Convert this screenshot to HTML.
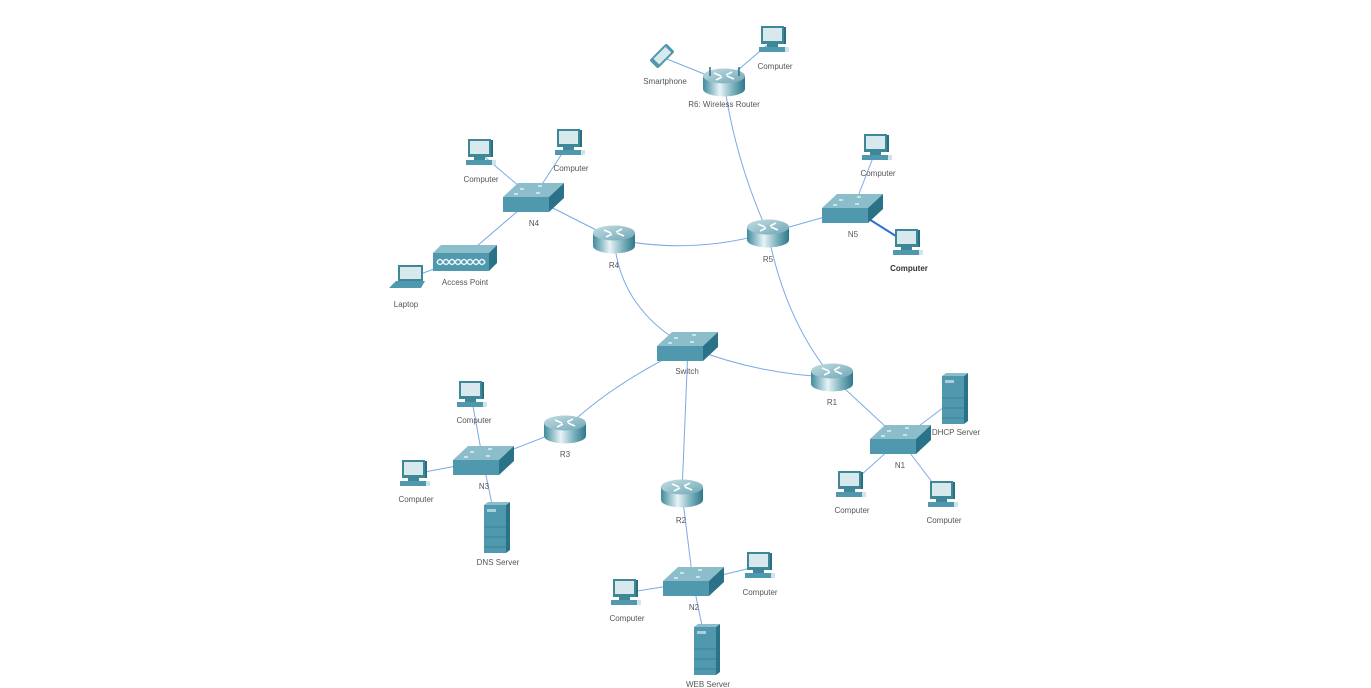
<!DOCTYPE html>
<html><head><meta charset="utf-8"><style>
html,body{margin:0;padding:0;background:#fff;}
svg{display:block;}
text{font-family:"Liberation Sans",sans-serif;font-size:8px;fill:#555;text-anchor:middle;}
</style></head><body>
<svg width="1371" height="688" viewBox="0 0 1371 688" xmlns="http://www.w3.org/2000/svg">
<defs>
<linearGradient id="rg" x1="0" x2="1" y1="0" y2="0">
<stop offset="0" stop-color="#3f8b9c"/><stop offset="0.4" stop-color="#e8f3f5"/><stop offset="0.7" stop-color="#7fb3c0"/><stop offset="1" stop-color="#2f7889"/>
</linearGradient>
<linearGradient id="rt" x1="0" x2="1" y1="0" y2="1">
<stop offset="0" stop-color="#c4dde3"/><stop offset="1" stop-color="#6fa7b6"/>
</linearGradient>
<g id="router">
<path d="M-21,-6 L-21,7 A21,7.5 0 0 0 21,7 L21,-6 Z" fill="url(#rg)"/>
<ellipse cx="0" cy="-6" rx="21" ry="7.5" fill="url(#rt)"/>
<path d="M-10,-9 L-3,-6 M10,-3 L3,-6 M-8,-2 L-2,-5 M8,-10 L2,-7" stroke="#fff" stroke-width="1.6"/>
</g>
<g id="switch">
<polygon points="-31,-1 -16,-15 30,-15 15,-1" fill="#8cbdcb"/>
<rect x="-31" y="-1" width="46" height="15" fill="#4f98ad"/>
<polygon points="15,-1 30,-15 30,0 15,14" fill="#2a7287"/>
<path d="M-14,-9 h4 M4,-12 h4 M-20,-4 h4 M2,-5 h4" stroke="#e0eef2" stroke-width="1.5"/>
</g>
<g id="pc">
<rect x="-12" y="-14" width="23" height="18" fill="#3e8799"/>
<rect x="-10" y="-12" width="19" height="13" fill="#d8e9ee"/>
<rect x="11" y="-13" width="2" height="17" fill="#2a6f80"/>
<rect x="-6" y="4" width="11" height="3" fill="#3e8799"/>
<rect x="-14" y="7" width="26" height="5" fill="#4f98ad"/>
<rect x="12" y="7" width="4" height="5" fill="#cfe3ea"/>
</g>
<g id="server">
<rect x="-13" y="-24" width="22" height="48" fill="#4f98ad"/>
<polygon points="9,-24 13,-27 13,21 9,24" fill="#2a7287"/>
<polygon points="-13,-24 -9,-27 13,-27 9,-24" fill="#8cbdcb"/>
<rect x="-10" y="-20" width="9" height="3" fill="#a9d0da"/>
<path d="M-13,-2 h22 M-13,8 h22 M-13,18 h22" stroke="#3a8296" stroke-width="1"/>
</g>
</defs>

<g stroke="#7aa9e8" stroke-width="1" fill="none">
<path d="M614,239 Q690,255 768,233"/>
<path d="M724,82 Q735,160 768,233"/>
<path d="M614,239 Q620,310 688,347"/>
<path d="M768,233 Q785,320 832,377"/>
<path d="M688,347 Q760,375 832,377"/>
<path d="M688,347 Q610,385 565,429"/>
<line x1="688" y1="347" x2="682" y2="493"/>
<line x1="533" y1="198" x2="614" y2="239"/>
<line x1="533" y1="198" x2="480" y2="153"/>
<line x1="533" y1="198" x2="569" y2="143"/>
<line x1="533" y1="198" x2="463" y2="258"/>
<line x1="463" y1="258" x2="410" y2="278"/>
<line x1="768" y1="233" x2="853" y2="209"/>
<line x1="853" y1="209" x2="876" y2="150"/>
<line x1="724" y1="82" x2="662" y2="57"/>
<line x1="724" y1="82" x2="773" y2="40"/>
<line x1="832" y1="377" x2="900" y2="440"/>
<line x1="900" y1="440" x2="955" y2="399"/>
<line x1="900" y1="440" x2="850" y2="485"/>
<line x1="900" y1="440" x2="942" y2="495"/>
<line x1="565" y1="429" x2="483" y2="461"/>
<line x1="483" y1="461" x2="471" y2="395"/>
<line x1="483" y1="461" x2="414" y2="474"/>
<line x1="483" y1="461" x2="497" y2="528"/>
<line x1="682" y1="493" x2="693" y2="582"/>
<line x1="693" y1="582" x2="625" y2="593"/>
<line x1="693" y1="582" x2="759" y2="566"/>
<line x1="693" y1="582" x2="707" y2="650"/>
</g>
<line x1="853" y1="209" x2="907" y2="243" stroke="#2a6fd8" stroke-width="2"/>

<use href="#router" x="614" y="239"/><text x="614" y="268">R4</text>
<use href="#router" x="768" y="233"/><text x="768" y="262">R5</text>
<use href="#router" x="832" y="377"/><text x="832" y="405">R1</text>
<use href="#router" x="565" y="429"/><text x="565" y="457">R3</text>
<use href="#router" x="682" y="493"/><text x="681" y="523">R2</text>
<use href="#router" x="724" y="82"/>
<line x1="710" y1="76" x2="710" y2="67" stroke="#2a6f80" stroke-width="1.5"/>
<line x1="739" y1="76" x2="739" y2="67" stroke="#2a6f80" stroke-width="1.5"/>
<text x="724" y="107">R6: Wireless Router</text>

<use href="#switch" x="534" y="198"/><text x="534" y="226">N4</text>
<use href="#switch" x="688" y="347"/><text x="687" y="374">Switch</text>
<use href="#switch" x="853" y="209"/><text x="853" y="237">N5</text>
<use href="#switch" x="484" y="461"/><text x="484" y="489">N3</text>
<use href="#switch" x="901" y="440"/><text x="900" y="468">N1</text>
<use href="#switch" x="694" y="582"/><text x="694" y="610">N2</text>

<use href="#pc" x="480" y="153"/><text x="481" y="182">Computer</text>
<use href="#pc" x="569" y="143"/><text x="571" y="171">Computer</text>
<use href="#pc" x="876" y="148"/><text x="878" y="176">Computer</text>
<use href="#pc" x="907" y="243"/><text x="909" y="271" style="fill:#333;font-weight:bold">Computer</text>
<use href="#pc" x="773" y="40"/><text x="775" y="69">Computer</text>
<use href="#pc" x="471" y="395"/><text x="474" y="423">Computer</text>
<use href="#pc" x="414" y="474"/><text x="416" y="502">Computer</text>
<use href="#pc" x="850" y="485"/><text x="852" y="513">Computer</text>
<use href="#pc" x="942" y="495"/><text x="944" y="523">Computer</text>
<use href="#pc" x="625" y="593"/><text x="627" y="621">Computer</text>
<use href="#pc" x="759" y="566"/><text x="760" y="595">Computer</text>

<use href="#server" x="497" y="529"/><text x="498" y="565">DNS Server</text>
<use href="#server" x="955" y="400"/><text x="956" y="435">DHCP Server</text>
<use href="#server" x="707" y="651"/><text x="708" y="687">WEB Server</text>

<polygon points="433,253 441,245 497,245 489,253" fill="#8cbdcb"/>
<rect x="433" y="253" width="56" height="18" fill="#4f98ad"/>
<polygon points="489,253 497,245 497,263 489,271" fill="#2a7287"/>
<path d="M437,262 q3,-5 6,0 q3,5 6,0 q3,-5 6,0 q3,5 6,0 q3,-5 6,0 q3,5 6,0 q3,-5 6,0 q3,5 6,0 M437,262 q3,5 6,0 q3,-5 6,0 q3,5 6,0 q3,-5 6,0 q3,5 6,0 q3,-5 6,0 q3,5 6,0 q3,-5 6,0" stroke="#e8f3f5" stroke-width="1.5" fill="none"/>
<text x="465" y="285">Access Point</text>

<rect x="398" y="265" width="25" height="16" fill="#3e8799"/>
<rect x="400" y="267" width="21" height="12" fill="#d8e9ee"/>
<polygon points="396,281 425,281 421,288 389,288" fill="#4f98ad"/>
<text x="406" y="307">Laptop</text>

<g transform="translate(662,56) rotate(45)">
<rect x="-6" y="-12" width="12" height="24" rx="2" fill="#4f98ad"/>
<rect x="-4" y="-9" width="8" height="17" fill="#d8e9ee"/>
</g>
<text x="665" y="84">Smartphone</text>
</svg>
</body></html>
